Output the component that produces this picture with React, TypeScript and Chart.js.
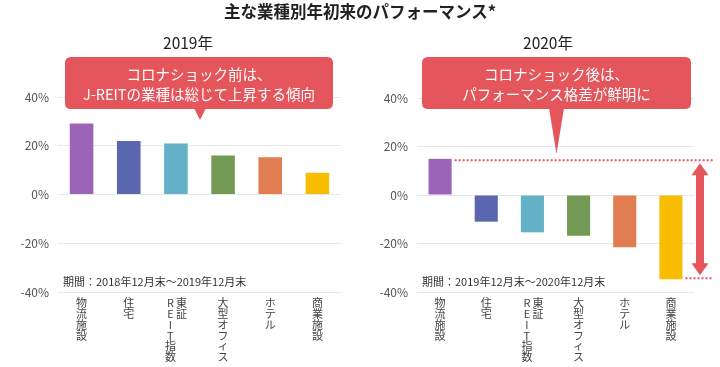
import React, { useEffect, useRef } from "react";
import { Chart, registerables } from "chart.js";

Chart.register(...registerables);

// ---- data ----
const categories = ["物流施設", "住宅", "東証REIT指数", "大型オフィス", "ホテル", "商業施設"];
const categoryColumns = [["物流施設"], ["住宅"], ["東証", "REIT指数"], ["大型オフィス"], ["ホテル"], ["商業施設"]];
const values2019 = [29.1, 22.0, 20.9, 16.0, 15.3, 8.9];
const values2020 = [14.9, -11.0, -15.4, -16.8, -21.5, -34.7];
const barColors = ["#9B64B8", "#5A66AE", "#62B1C6", "#739A55", "#E07E52", "#F8BD00"];
const yTicks = [-40, -20, 0, 20, 40];
const mainTitle = "主な業種別年初来のパフォーマンス*";
const panelTitles = ["2019年", "2020年"];
const calloutLines = [
  ["コロナショック前は、", "J-REITの業種は総じて上昇する傾向"],
  ["コロナショック後は、", "パフォーマンス格差が鮮明に"],
];
const periodNotes = ["期間：2018年12月末～2019年12月末", "期間：2019年12月末～2020年12月末"];

const FONT = "'Noto Sans CJK JP', 'Noto Sans', sans-serif";
const RED = "#E5565C";

type PanelOpts = {
  values: number[];
  idx: number;
  top: number;
  bottom: number;
  yWidth: number;
  right: number;
  callout: { x0: number; x1: number; y0: number; y1: number; tipX: number; tipY: number; baseHalf: number };
  showArrow: boolean;
};

function roundRect(ctx: CanvasRenderingContext2D, x: number, y: number, w: number, h: number, r: number) {
  ctx.beginPath();
  ctx.moveTo(x + r, y);
  ctx.lineTo(x + w - r, y);
  ctx.quadraticCurveTo(x + w, y, x + w, y + r);
  ctx.lineTo(x + w, y + h - r);
  ctx.quadraticCurveTo(x + w, y + h, x + w - r, y + h);
  ctx.lineTo(x + r, y + h);
  ctx.quadraticCurveTo(x, y + h, x, y + h - r);
  ctx.lineTo(x, y + r);
  ctx.quadraticCurveTo(x, y, x + r, y);
  ctx.closePath();
}

function makeOverlay(o: PanelOpts) {
  return {
    id: "overlay" + o.idx,
    afterDraw(chart: any) {
      const ctx: CanvasRenderingContext2D = chart.ctx;
      const xs = chart.scales.x;
      const ys = chart.scales.y;
      const area = chart.chartArea;
      ctx.save();

      // vertical category labels
      ctx.fillStyle = "#444";
      ctx.font = `11px ${FONT}`;
      ctx.textAlign = "center";
      ctx.textBaseline = "middle";
      const colGap = 11;
      const step = 10.8;
      const firstY = 303;
      categoryColumns.forEach((cols, i) => {
        const cx = xs.getPixelForValue(i);
        cols.forEach((col, c) => {
          const x = cx + ((cols.length - 1) / 2) * colGap - c * colGap;
          Array.from(col).forEach((ch, k) => {
            ctx.fillText(ch, x, firstY + k * step);
          });
        });
      });

      // period note
      ctx.fillStyle = "#333";
      ctx.font = `11px ${FONT}`;
      ctx.textAlign = "left";
      ctx.fillText(periodNotes[o.idx], area.left + 5, 281.5);

      // range lines + arrow
      if (o.showArrow) {
        const meta = chart.getDatasetMeta(0);
        const vals = o.values;
        let iMax = 0, iMin = 0;
        vals.forEach((v, i) => {
          if (v > vals[iMax]) iMax = i;
          if (v < vals[iMin]) iMin = i;
        });
        const yTop = ys.getPixelForValue(vals[iMax]) + 1.5;
        const yBot = ys.getPixelForValue(vals[iMin]) - 1;
        const endX = chart.width - 7;
        ctx.strokeStyle = RED;
        ctx.lineWidth = 2;
        ctx.setLineDash([2, 2]);
        const barMax = meta.data[iMax];
        const barMin = meta.data[iMin];
        ctx.beginPath();
        ctx.moveTo(barMax.x + barMax.width / 2 + 3, yTop);
        ctx.lineTo(endX, yTop);
        ctx.moveTo(barMin.x + barMin.width / 2 + 3, yBot);
        ctx.lineTo(endX, yBot);
        ctx.stroke();
        ctx.setLineDash([]);

        const ax = area.right + 6;
        const tipT = yTop + 3;
        const tipB = yBot - 3;
        const headH = 12;
        const headW = 8.5;
        const shaft = 4;
        ctx.fillStyle = RED;
        ctx.beginPath();
        ctx.moveTo(ax, tipT);
        ctx.lineTo(ax + headW, tipT + headH);
        ctx.lineTo(ax + shaft, tipT + headH);
        ctx.lineTo(ax + shaft, tipB - headH);
        ctx.lineTo(ax + headW, tipB - headH);
        ctx.lineTo(ax, tipB);
        ctx.lineTo(ax - headW, tipB - headH);
        ctx.lineTo(ax - shaft, tipB - headH);
        ctx.lineTo(ax - shaft, tipT + headH);
        ctx.lineTo(ax - headW, tipT + headH);
        ctx.closePath();
        ctx.fill();
      }

      // callout
      const c = o.callout;
      ctx.fillStyle = RED;
      roundRect(ctx, c.x0, c.y0, c.x1 - c.x0, c.y1 - c.y0, 6);
      ctx.fill();
      ctx.beginPath();
      ctx.moveTo(c.tipX - c.baseHalf, c.y1 - 1);
      ctx.lineTo(c.tipX + c.baseHalf, c.y1 - 1);
      ctx.lineTo(c.tipX, c.tipY);
      ctx.closePath();
      ctx.fill();
      ctx.fillStyle = "#ffffff";
      ctx.font = `14.5px ${FONT}`;
      ctx.textAlign = "center";
      ctx.textBaseline = "middle";
      const mid = (c.x0 + c.x1) / 2;
      calloutLines[o.idx].forEach((line, k) => {
        ctx.fillText(line, mid, 74.5 + k * 19.5);
      });

      ctx.restore();
    },
  };
}

function Panel(props: PanelOpts & { left: number }) {
  const ref = useRef<HTMLCanvasElement | null>(null);
  useEffect(() => {
    if (!ref.current) return;
    const o = props;
    const chart = new Chart(ref.current, {
      type: "bar",
      data: {
        labels: categories,
        datasets: [
          {
            data: o.values,
            backgroundColor: barColors,
            borderWidth: 0,
            barPercentage: 0.5,
            categoryPercentage: 1,
          },
        ],
      },
      options: {
        animation: false,
        responsive: false,
        maintainAspectRatio: false,
        layout: { padding: { top: o.top, bottom: 367 - o.bottom, left: 0, right: o.right } },
        plugins: {
          legend: { display: false },
          tooltip: { enabled: false },
          title: { display: false },
        },
        scales: {
          x: {
            grid: { display: false },
            border: { display: false },
            ticks: { display: false },
            afterFit: (s: any) => {
              s.height = 0;
            },
          },
          y: {
            min: -40,
            max: 40,
            afterBuildTicks: (s: any) => {
              s.ticks = yTicks.map((v) => ({ value: v }));
            },
            afterFit: (s: any) => {
              s.width = o.yWidth;
            },
            grid: { color: "#e8e8e8", drawTicks: false, lineWidth: 1 },
            border: { display: false },
            ticks: {
              padding: 9,
              color: "#555",
              font: { family: FONT, size: 12 },
              callback: (v: any) => v + "%",
            },
          },
        },
      } as any,
      plugins: [makeOverlay(o)],
    });
    return () => chart.destroy();
  }, []);
  return (
    <canvas
      ref={ref}
      width={360}
      height={367}
      style={{ position: "absolute", left: props.left, top: 0, width: 360, height: 367, display: "block" }}
    />
  );
}

export default function App() {
  useEffect(() => {
    document.body.style.margin = "0";
  }, []);
  return (
    <div style={{ position: "fixed", left: 0, top: 0, width: 720, height: 367, background: "#fff", overflow: "hidden" }}>
      <Panel
        left={0}
        values={values2019}
        idx={0}
        top={97}
        bottom={292}
        yWidth={58}
        right={19}
        callout={{ x0: 65, x1: 333, y0: 57, y1: 109, tipX: 200, tipY: 120, baseHalf: 6 }}
        showArrow={false}
      />
      <Panel
        left={360}
        values={values2020}
        idx={1}
        top={98}
        bottom={292}
        yWidth={57}
        right={26}
        callout={{ x0: 62, x1: 331, y0: 57, y1: 109, tipX: 196.5, tipY: 154, baseHalf: 7.5 }}
        showArrow={true}
      />
      <div
        style={{
          position: "absolute",
          left: 0,
          top: 0,
          width: 720,
          textAlign: "center",
          font: `bold 16.5px ${FONT}`,
          lineHeight: "22px",
          color: "#222",
        }}
      >
        {mainTitle}
      </div>
      {panelTitles.map((t, i) => (
        <div
          key={t}
          style={{
            position: "absolute",
            left: i === 0 ? 88 : 448,
            top: 31,
            width: 200,
            textAlign: "center",
            font: `15.5px ${FONT}`,
            lineHeight: "22px",
            color: "#222",
          }}
        >
          {t}
        </div>
      ))}
    </div>
  );
}
